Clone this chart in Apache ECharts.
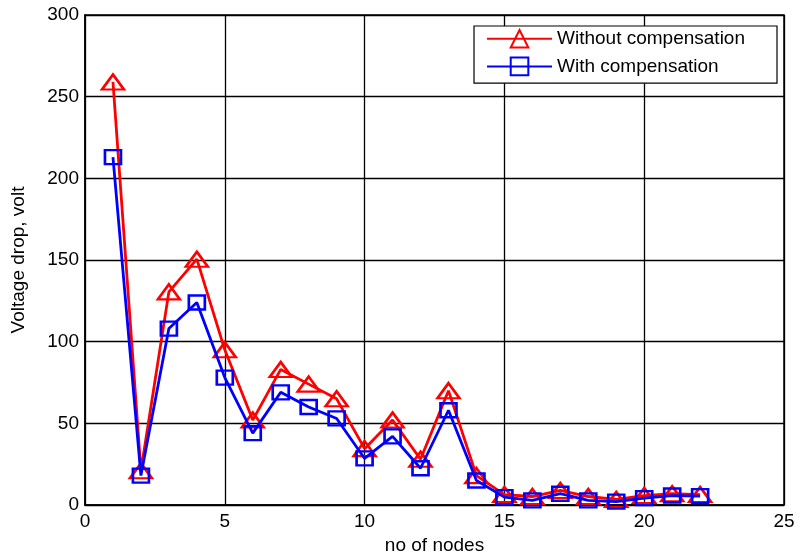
<!DOCTYPE html>
<html><head><meta charset="utf-8">
<script src="https://cdn.jsdelivr.net/npm/echarts@6/dist/echarts.min.js"></script>
<style>html,body{margin:0;padding:0;background:#fff}#c{width:801px;height:560px}</style>
</head><body><div id="c"></div>
<script>
const nodes = [1,2,3,4,5,6,7,8,9,10,11,12,13,14,15,16,17,18,19,20,21,22];
const withoutComp = [259,21,130.5,150.5,95,52,83,74,65,34.5,52,28,70,18,6.4,5.2,8.9,5.2,3.4,5.8,6.9,6.4];
const withComp = [213,18,108,124,78,44,69,60,53,28.5,42,22.5,58,15,4.8,2.8,6.9,2.8,2.1,4.2,5.8,5.4];
const seriesNames = ['Without compensation','With compensation'];
const xTicks = [0,5,10,15,20,25];
const yTicks = [0,50,100,150,200,250,300];

const font = 'Liberation Sans, Arial, sans-serif';
const fs = 19;
const chart = echarts.init(document.getElementById('c'));
const pair = (arr) => nodes.map((n,i)=>[n,arr[i]]);
chart.setOption({
  animation:false,
  grid:{left:85,right:17,top:15,bottom:55,show:true,borderColor:'#000',borderWidth:1.5},
  legend:{
    right:24,top:26,orient:'vertical',itemWidth:65,itemHeight:22,itemGap:8,
    backgroundColor:'#fff',borderColor:'#000',borderWidth:1.2,padding:[3,32,7,12],
    textStyle:{fontFamily:font,fontSize:fs,color:'#000'},
    data:seriesNames
  },
  xAxis:{type:'value',min:0,max:25,interval:5,
    name:'no of nodes',nameLocation:'middle',nameGap:31,
    nameTextStyle:{fontFamily:font,fontSize:fs,color:'#000'},
    axisLine:{show:true,onZero:false,lineStyle:{color:'#000',width:1.5}},
    axisTick:{show:true,inside:true,length:5,lineStyle:{color:'#000'}},
    axisLabel:{fontFamily:font,fontSize:fs,color:'#000',margin:7,formatter:v=>xTicks.includes(v)?String(v):''},
    splitLine:{show:true,lineStyle:{color:'#000',width:1.3}}},
  yAxis:{type:'value',min:0,max:300,interval:50,
    name:'Voltage drop, volt',nameLocation:'middle',nameGap:57,
    nameTextStyle:{fontFamily:font,fontSize:fs,color:'#000'},
    axisLine:{show:true,lineStyle:{color:'#000',width:1.5}},
    axisTick:{show:true,inside:true,length:5,lineStyle:{color:'#000'}},
    axisLabel:{fontFamily:font,fontSize:fs,color:'#000',margin:6,formatter:v=>yTicks.includes(v)?String(v):''},
    splitLine:{show:true,lineStyle:{color:'#000',width:1.3}}},
  series:[
    {name:seriesNames[0],type:'line',data:pair(withoutComp),
      symbol:'triangle',symbolSize:[22,15],
      lineStyle:{color:'#ff0000',width:2.8},
      itemStyle:{color:'rgba(255,255,255,0)',borderColor:'#ff0000',borderWidth:2.5},z:2},
    {name:seriesNames[1],type:'line',data:pair(withComp),
      symbol:'rect',symbolSize:[16,14],
      lineStyle:{color:'#0000ff',width:2.8},
      itemStyle:{color:'rgba(255,255,255,0)',borderColor:'#0000ff',borderWidth:2.5},z:3}
  ]
});
</script></body></html>
